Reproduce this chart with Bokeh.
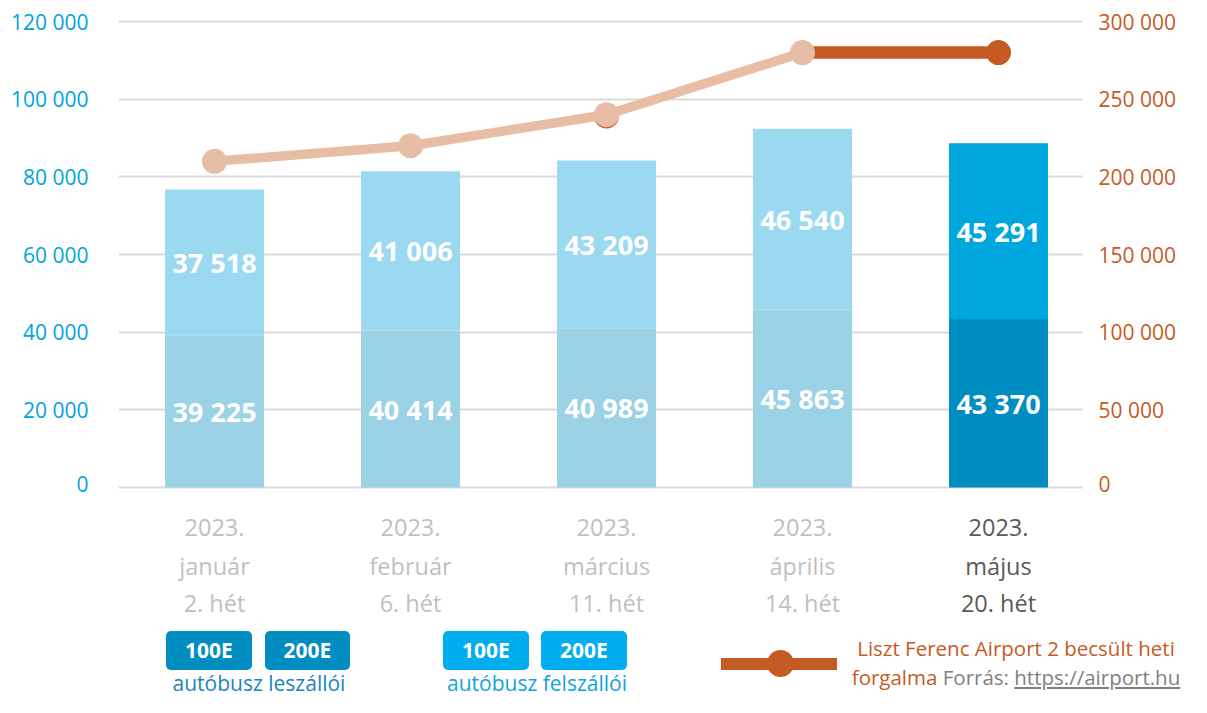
from bokeh.plotting import figure
from bokeh.layouts import column
from bokeh.models import (ColumnDataSource, Range1d, LinearAxis, FixedTicker,
                          CustomJSTickFormatter, Label, Div)
from bokeh.embed import file_html
from bokeh.resources import INLINE
from bokeh.core.properties import value

# ---------------- data ----------------
cat_line1 = ["2023.", "2023.", "2023.", "2023.", "2023."]
cat_line2 = ["január", "február", "március", "április", "május"]
cat_line3 = ["2. hét", "6. hét", "11. hét", "14. hét", "20. hét"]
leszallo = [39225, 40414, 40989, 45863, 43370]     # autóbusz leszállói
felszallo = [37518, 41006, 43209, 46540, 45291]    # autóbusz felszállói
airport = [210000, 220000, 240000, 280000, 280000]  # Liszt Ferenc Airport 2 heti forgalma
airport_dark_march = 239200
left_ticks = [0, 20000, 40000, 60000, 80000, 100000, 120000]
right_ticks = [0, 50000, 100000, 150000, 200000, 250000, 300000]
legend_routes = ["100E", "200E"]
legend_groups = ["autóbusz leszállói", "autóbusz felszállói"]
legend_line = ["Liszt Ferenc Airport 2 becsült heti", "forgalma", "Forrás:", "https://airport.hu"]

FONT = "Open Sans"
W = 1191
H_TOP = 497
H_MID = 128
H_LEG = 72

# picture pixel -> data helpers (layout only)
def dx(sx):
    return (sx - 214) / 196.0

def dy(sy):
    return (487 - sy) * 120000 / 466.0

XR = (dx(118), dx(1082))

p = figure(width=W, height=H_TOP, output_backend="svg", toolbar_location=None,
           x_range=Range1d(*XR), y_range=Range1d(dy(495), dy(13)),
           x_axis_location=None, min_border_left=118, min_border_right=W - 1082,
           min_border_top=13, min_border_bottom=H_TOP - 495)
p.outline_line_color = None
p.xgrid.visible = False
p.ygrid.ticker = FixedTicker(ticks=left_ticks)
p.ygrid.grid_line_color = "#D9D9D9"
p.ygrid.grid_line_width = 2

fmt = CustomJSTickFormatter(code="return tick.toFixed(0).replace(/\\B(?=(\\d{3})+(?!\\d))/g, ' ');")
ya = p.yaxis[0]
ya.ticker = FixedTicker(ticks=left_ticks)
ya.formatter = fmt
ya.axis_line_color = None
ya.major_tick_line_color = None
ya.minor_tick_line_color = None
ya.major_label_text_color = "#00A3E0"
ya.major_label_text_font = FONT
ya.major_label_text_font_size = "21px"
ya.major_label_standoff = 24

p.extra_y_ranges = {"right": Range1d(dy(495) * 2.5, dy(13) * 2.5)}
ra = LinearAxis(y_range_name="right", ticker=FixedTicker(ticks=right_ticks), formatter=fmt)
ra.axis_line_color = None
ra.major_tick_line_color = None
ra.minor_tick_line_color = None
ra.major_label_text_color = "#C55A24"
ra.major_label_text_font = FONT
ra.major_label_text_font_size = "21px"
ra.major_label_standoff = 10
p.add_layout(ra, "right")

# ---------------- bars ----------------
xs = list(range(len(leszallo)))
bottom_col = ["#9BD2E5"] * 4 + ["#008DC2"]
top_col = ["#9BD9F1"] * 4 + ["#00A6DE"]
tot = [a + b for a, b in zip(leszallo, felszallo)]
src = ColumnDataSource(dict(
    x=xs, les=leszallo, fel=felszallo, tot=tot,
    bc=bottom_col, tc=top_col,
    les_mid=[a / 2 for a in leszallo],
    fel_mid=[a + b / 2 for a, b in zip(leszallo, felszallo)],
    les_lbl=[f"{v:,}".replace(",", " ") for v in leszallo],
    fel_lbl=[f"{v:,}".replace(",", " ") for v in felszallo],
))
p.vbar(x="x", width=0.505, bottom=0, top="les", fill_color="bc", line_color=None, source=src)
p.vbar(x="x", width=0.505, bottom="les", top="tot", fill_color="tc", line_color=None, source=src)
for ycol, tcol in (("les_mid", "les_lbl"), ("fel_mid", "fel_lbl")):
    p.text(x="x", y=ycol, text=tcol, source=src, text_color="white",
           text_font=value(FONT), text_font_style="bold", text_font_size="27px",
           text_align="center", text_baseline="middle")

# ---------------- line ----------------
light = "#E8BDA5"
dark = "#C55A24"
p.line(xs[3:], airport[3:], y_range_name="right", line_color=dark, line_width=12.5)
p.scatter([xs[4]], [airport[4]], y_range_name="right", size=25, fill_color=dark, line_color=None)
p.scatter([xs[2]], [airport_dark_march], y_range_name="right", size=25, fill_color=dark, line_color=None)
p.line(xs[:4], airport[:4], y_range_name="right", line_color=light, line_width=9.5)
p.scatter(xs[:4], airport[:4], y_range_name="right", size=25, fill_color=light, line_color=None)

# ---------------- category labels ----------------
q = figure(width=W, height=H_MID, output_backend="svg", toolbar_location=None,
           x_range=Range1d(*XR), y_range=Range1d(H_TOP + H_MID, H_TOP),
           x_axis_location=None, y_axis_location=None, min_border_top=0,
           min_border_bottom=0, min_border_left=118, min_border_right=W - 1082)
q.outline_line_color = None
q.xgrid.visible = False
q.ygrid.visible = False

for i in xs:
    col = "#595959" if i == 4 else "#BFBFBF"
    for line, sy in ((cat_line1[i], 527), (cat_line2[i], 565), (cat_line3[i], 602)):
        q.add_layout(Label(x=i, y=sy, text=line, text_align="center",
                           text_baseline="middle", text_color=col,
                           text_font=FONT, text_font_size="23.5px"))

# ---------------- legend (HTML) ----------------
Y0 = H_TOP + H_MID  # picture y of legend strip top

def absdiv(left, top, width, height, style, content=""):
    return (f'<div style="position:absolute;left:{left}px;top:{top - Y0}px;'
            f'width:{width}px;height:{height}px;{style}">{content}</div>')

parts = []
box_style = ("border-radius:5px;color:white;font-weight:bold;font-size:21px;"
             "text-align:center;line-height:{h}px;")
for (x0, x1), c, t in (((166, 252), "#008DC2", legend_routes[0]),
                       ((265, 350), "#008DC2", legend_routes[1]),
                       ((443, 529), "#00AEEF", legend_routes[0]),
                       ((541, 627), "#00AEEF", legend_routes[1])):
    parts.append(absdiv(x0, 631, x1 - x0, 39,
                        f"background:{c};" + box_style.format(h=39), t))
parts.append(absdiv(139, 670, 240, 27,
                    "color:#1A85C1;font-size:21px;line-height:27px;text-align:center;white-space:nowrap;",
                    legend_groups[0]))
parts.append(absdiv(417, 670, 240, 27,
                    "color:#0FA3DE;font-size:21px;line-height:27px;text-align:center;white-space:nowrap;",
                    legend_groups[1]))
parts.append(absdiv(721, 658, 116, 12, f"background:{dark};"))
parts.append(absdiv(767, 650, 27, 27, f"background:{dark};border-radius:50%;"))
txt = (f'<span style="color:{dark}">{legend_line[0]}</span><br>'
       f'<span style="color:{dark}">{legend_line[1]}</span> '
       f'<span style="color:#7F7F7F">{legend_line[2]} '
       f'<span style="text-decoration:underline">{legend_line[3]}</span></span>')
parts.append(absdiv(846, 634, 340, 60,
                    "font-size:20.5px;line-height:29px;text-align:center;white-space:nowrap;", txt))

html = (f'<div style="position:relative;width:{W}px;height:{H_LEG}px;overflow:hidden;'
        f'font-family:\'{FONT}\',sans-serif;">' + "".join(parts) + "</div>")
leg = Div(text=html, width=W, height=H_LEG, margin=0)

open("out.html", "w").write(file_html(column(p, q, leg, spacing=0), INLINE))
